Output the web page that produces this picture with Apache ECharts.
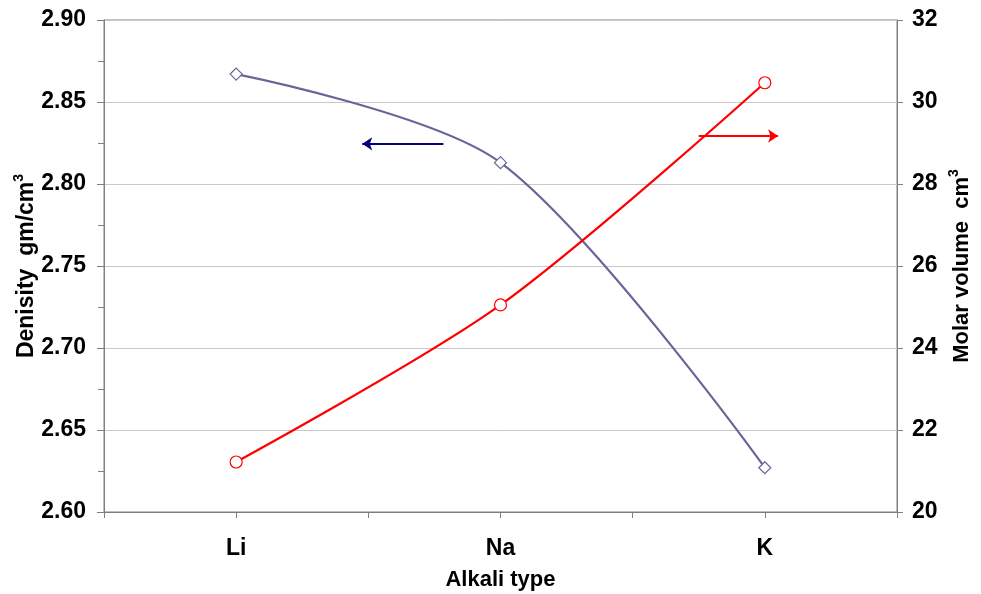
<!DOCTYPE html>
<html>
<head>
<meta charset="utf-8">
<script src="https://cdn.jsdelivr.net/npm/echarts@6/dist/echarts.min.js"></script>
<style>html,body{margin:0;padding:0;background:#fff;}#c{width:981px;height:594px;}</style>
</head>
<body>
<div id="c"></div>
<script>
var categories = ['Li', 'Na', 'K'];
var density = [2.867, 2.813, 2.627];
var molarVolume = [21.22, 25.05, 30.47];
var densityTicks = [2.60, 2.65, 2.70, 2.75, 2.80, 2.85, 2.90];
var volumeTicks = [20, 22, 24, 26, 28, 30, 32];
// annotation arrows (data coordinates): [x0, y0, x1, y1]
var densityArrow = [1.784, 2.8245, 1.477, 2.8245];
var volumeArrow = [2.75, 29.17, 3.05, 29.17];

var FONT = '"Liberation Sans", Arial, sans-serif';
function pairs(vals) { return vals.map(function (v, i) { return [i + 1, v]; }); }

var chart = echarts.init(document.getElementById('c'), null, { renderer: 'canvas' });
chart.setOption({
  backgroundColor: '#fff',
  animation: false,
  grid: { left: 104, right: 84, top: 20, bottom: 82, containLabel: false, outerBoundsMode: 'none',
          show: true, borderColor: '#808080', borderWidth: 1 },
  xAxis: {
    type: 'value', min: 0.5, max: 3.5, interval: 0.5,
    name: 'Alkali type', nameLocation: 'middle', nameGap: 57, nameMoveOverlap: false,
    nameTextStyle: { fontFamily: FONT, fontWeight: 'bold', fontSize: 22, color: '#000' },
    axisLine: { show: true, lineStyle: { color: '#808080', width: 1 } },
    axisTick: { show: true, inside: false, length: 6, lineStyle: { color: '#808080' } },
    axisLabel: {
      margin: 25, fontFamily: FONT, fontWeight: 'bold', fontSize: 23, color: '#000',
      formatter: function (v) {
        var i = Math.round(v) - 1;
        return (Math.abs(v - Math.round(v)) < 1e-6 && categories[i]) ? categories[i] : '';
      }
    },
    splitLine: { show: false }
  },
  yAxis: [{
    type: 'value', min: densityTicks[0], max: densityTicks[densityTicks.length - 1], interval: 0.05,
    position: 'left',
    name: '{t|Denisity  gm/cm}{s|3}', nameLocation: 'middle', nameGap: 66, nameRotate: 90, nameMoveOverlap: false,
    nameTextStyle: {
      rich: {
        t: { fontFamily: FONT, fontWeight: 'bold', fontSize: 23, color: '#000', lineHeight: 26, verticalAlign: 'bottom' },
        s: { fontFamily: FONT, fontWeight: 'bold', fontSize: 14, color: '#000', lineHeight: 26, verticalAlign: 'top' }
      }
    },
    axisLine: { show: true, lineStyle: { color: '#808080', width: 1 } },
    axisTick: { show: true, inside: false, length: 7, lineStyle: { color: '#808080' } },
    minorTick: { show: true, splitNumber: 2, length: 6, lineStyle: { color: '#808080' } },
    axisLabel: { margin: 18, fontFamily: FONT, fontWeight: 'bold', fontSize: 23, color: '#000',
      formatter: function (v) { return v.toFixed(2); } },
    splitLine: { show: true, lineStyle: { color: '#c8c8c8', width: 1 } }
  }, {
    type: 'value', min: volumeTicks[0], max: volumeTicks[volumeTicks.length - 1], interval: 2,
    position: 'right',
    name: '{t|Molar volume  cm}{s|3}', nameLocation: 'middle', nameGap: 50, nameRotate: 90, nameMoveOverlap: false,
    nameTextStyle: {
      rich: {
        t: { fontFamily: FONT, fontWeight: 'bold', fontSize: 22, color: '#000', lineHeight: 26, verticalAlign: 'bottom' },
        s: { fontFamily: FONT, fontWeight: 'bold', fontSize: 14, color: '#000', lineHeight: 26, verticalAlign: 'top' }
      }
    },
    axisLine: { show: true, lineStyle: { color: '#808080', width: 1 } },
    axisTick: { show: true, inside: false, length: 6, lineStyle: { color: '#808080' } },
    axisLabel: { margin: 15, fontFamily: FONT, fontWeight: 'bold', fontSize: 23, color: '#000' },
    splitLine: { show: false }
  }],
  series: [{
    name: 'Density', type: 'line', yAxisIndex: 0, data: pairs(density),
    smooth: 0.3,
    symbol: 'diamond', symbolSize: 12,
    lineStyle: { color: '#666699', width: 2.2 },
    itemStyle: { color: '#ffffff', borderColor: '#666699', borderWidth: 1.2 },
    z: 3,
    markLine: {
      silent: true, symbol: ['none', 'arrow'], symbolSize: [10, 10],
      label: { show: false },
      lineStyle: { color: '#000080', width: 1.8, type: 'solid' },
      data: [[{ coord: [densityArrow[0], densityArrow[1]] }, { coord: [densityArrow[2], densityArrow[3]] }]]
    }
  }, {
    name: 'Molar volume', type: 'line', yAxisIndex: 1, data: pairs(molarVolume),
    smooth: 0.3,
    symbol: 'circle', symbolSize: 12,
    lineStyle: { color: '#ff0000', width: 2.2 },
    itemStyle: { color: '#ffffff', borderColor: '#ff0000', borderWidth: 1.2 },
    z: 3,
    markLine: {
      silent: true, symbol: ['none', 'arrow'], symbolSize: [10, 10],
      label: { show: false },
      lineStyle: { color: '#ff0000', width: 1.8, type: 'solid' },
      data: [[{ coord: [volumeArrow[0], volumeArrow[1]] }, { coord: [volumeArrow[2], volumeArrow[3]] }]]
    }
  }]
});
</script>
</body>
</html>
